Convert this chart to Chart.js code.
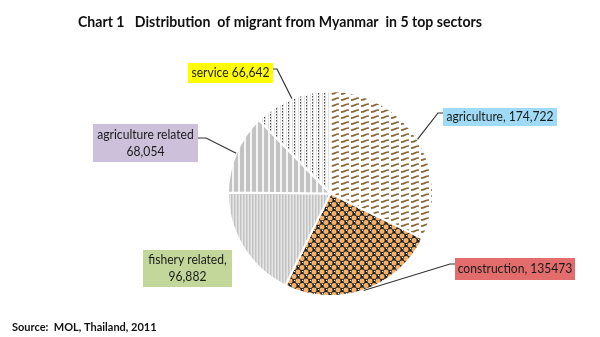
<!DOCTYPE html>
<html>
<head>
<meta charset="utf-8">
<script src="https://cdn.jsdelivr.net/npm/chart.js@4"></script>
<style>
  html, body { margin: 0; padding: 0; background: #fff; }
  #wrap { width: 600px; height: 337px; }
</style>
</head>
<body>
<div id="wrap"><canvas id="pieChart" width="600" height="337"></canvas></div>
<script>
// data, clockwise from 12 o'clock
const sectors = ['agriculture', 'construction', 'fishery related', 'agriculture related', 'service'];
const workers = [174722, 135473, 96882, 68054, 66642];
const labelLines = [
    ['agriculture, 174,722'],
    ['construction, 135473'],
    ['fishery related,', '96,882'],
    ['agriculture related', '68,054'],
    ['service 66,642']
];
const chartTitle = 'Chart 1   Distribution  of migrant from Myanmar  in 5 top sectors';
const sourceNote = 'Source:  MOL, Thailand, 2011';

// label boxes (layout only)
const boxes = [
    { x: 443, y: 108, w: 114, h: 18, bg: '#9fdbf6', knee: [438, 113], side: 'left' },
    { x: 455, y: 258, w: 120, h: 22, bg: '#e36d6d', knee: [450, 264], side: 'left' },
    { x: 143, y: 250, w: 89, h: 37, bg: '#c4d79b', knee: null },
    { x: 93, y: 124, w: 105, h: 38, bg: '#ccc0da', knee: [206, 138], side: 'right' },
    { x: 188, y: 63, w: 85, h: 20, bg: '#ffff00', knee: [277, 69], side: 'right' }
];

function makePattern(w, h, draw) {
    const c = document.createElement('canvas');
    c.width = w; c.height = h;
    const g = c.getContext('2d');
    draw(g);
    return g.createPattern(c, 'repeat');
}

// brown wavy dashes
const pAgri = makePattern(10, 6, g => {
    g.fillStyle = '#ffffff'; g.fillRect(0, 0, 10, 6);
    g.strokeStyle = '#8a6535'; g.lineWidth = 1.7;
    g.beginPath(); g.moveTo(1, 4.2); g.quadraticCurveTo(4, 3.8, 5, 3); g.quadraticCurveTo(6.5, 2, 9, 2); g.stroke();
});
// orange dots on dark
const pCons = makePattern(8, 9, g => {
    g.fillStyle = '#222222'; g.fillRect(0, 0, 8, 9);
    g.fillStyle = '#ffffff';
    g.fillRect(6, 1, 1, 1); g.fillRect(2, 5, 1, 1);
    g.fillStyle = '#f6b26b';
    [[2, 2], [6, 6.5], [-2, 6.5], [2, 11], [10, 2], [2, -2.5], [6, -2.5], [10, 11]].forEach(p => {
        g.beginPath(); g.arc(p[0], p[1], 2.5, 0, Math.PI * 2); g.fill();
    });
});
// fine gray verticals
const pFish = makePattern(3, 1, g => {
    g.fillStyle = '#c2c2c2'; g.fillRect(0, 0, 1, 1);
    g.fillStyle = '#d4d4d4'; g.fillRect(1, 0, 1, 1);
    g.fillStyle = '#e6e6e6'; g.fillRect(2, 0, 1, 1);
});
// wide gray stripes
const pAgriRel = makePattern(6, 1, g => {
    g.fillStyle = '#c3c3c3'; g.fillRect(0, 0, 4, 1);
    g.fillStyle = '#f4f4f4'; g.fillRect(4, 0, 2, 1);
});
// dotted verticals
const pServ = makePattern(6, 3, g => {
    g.fillStyle = '#ffffff'; g.fillRect(0, 0, 6, 3);
    g.fillStyle = '#e2e2e2'; g.fillRect(1, 0, 1, 3); g.fillRect(4, 0, 1, 3);
    g.fillStyle = '#4a4a4a'; g.fillRect(0, 0, 1, 1);
    g.fillStyle = '#9a9a9a'; g.fillRect(0, 1, 1, 1);
});

// Calibri-ish: draw a bit narrower than Lato
function narrowText(ctx, text, x, y, squeeze, align) {
    const w = ctx.measureText(text).width * squeeze;
    let left = x;
    if (align === 'center') left = x - w / 2;
    ctx.save();
    ctx.translate(left, y);
    ctx.scale(squeeze, 1);
    ctx.textAlign = 'left';
    ctx.fillText(text, 0, 0);
    ctx.restore();
}

const annotations = {
    id: 'annotations',
    afterDraw(chart) {
        const ctx = chart.ctx;
        ctx.save();
        ctx.fillStyle = '#111';
        ctx.textBaseline = 'middle';
        ctx.font = 'bold 16px Lato';
        const tw = ctx.measureText(chartTitle).width;
        narrowText(ctx, chartTitle, 78, 22, 404 / tw, 'left');
        ctx.font = 'bold 11px Lato';
        ctx.fillText(sourceNote, 12, 327);

        const meta = chart.getDatasetMeta(0);
        meta.data.forEach((arc, i) => {
            const b = boxes[i];
            const mid = (arc.startAngle + arc.endAngle) / 2;
            const px = arc.x + Math.cos(mid) * arc.outerRadius;
            const py = arc.y + Math.sin(mid) * arc.outerRadius;
            if (b.knee) {
                ctx.strokeStyle = '#333333';
                ctx.lineWidth = 1.2;
                ctx.beginPath();
                ctx.moveTo(b.side === 'left' ? b.x : b.x + b.w, b.knee[1]);
                ctx.lineTo(b.knee[0], b.knee[1]);
                ctx.lineTo(px, py);
                ctx.stroke();
            }
            ctx.fillStyle = b.bg;
            ctx.fillRect(b.x, b.y, b.w, b.h);
            ctx.fillStyle = '#1a1a1a';
            ctx.font = '13px Lato';
            const lines = labelLines[i];
            const lh = 17;
            const top = b.y + b.h / 2 - (lines.length - 1) * lh / 2;
            lines.forEach((t, k) => narrowText(ctx, t, b.x + b.w / 2, top + k * lh, 0.93, 'center'));
        });
        ctx.restore();
    }
};

new Chart(document.getElementById('pieChart'), {
    type: 'pie',
    data: {
        labels: sectors,
        datasets: [{
            data: workers,
            backgroundColor: [pAgri, pCons, pFish, pAgriRel, pServ],
            borderColor: '#ffffff',
            borderWidth: 2
        }]
    },
    options: {
        responsive: false,
        devicePixelRatio: 1,
        animation: false,
        layout: { padding: { top: 90, bottom: 40, left: 227, right: 166 } },
        plugins: {
            legend: { display: false },
            tooltip: { enabled: false },
            title: { display: false }
        }
    },
    plugins: [annotations]
});
</script>
</body>
</html>
